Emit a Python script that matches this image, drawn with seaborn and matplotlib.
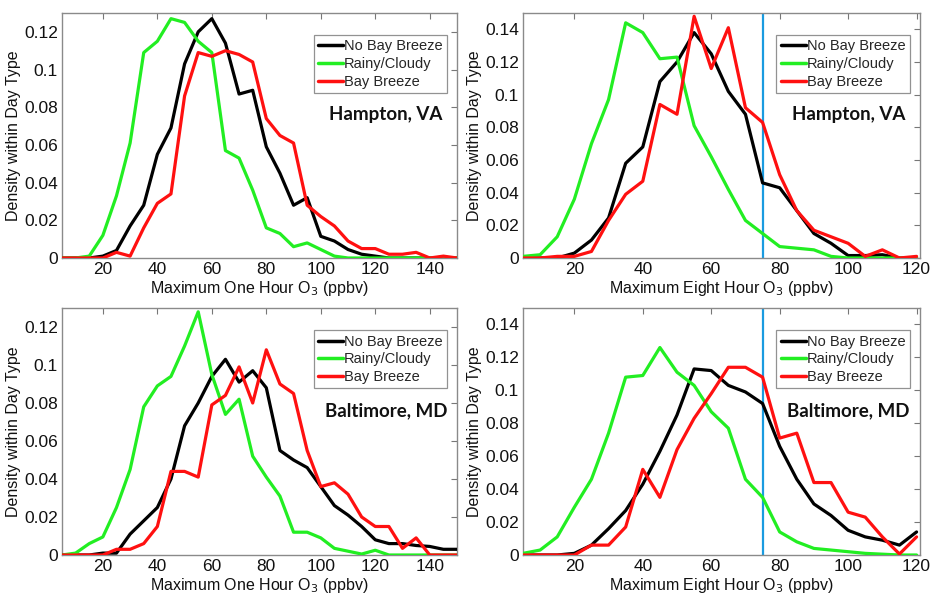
import numpy as np
import pandas as pd
import matplotlib
matplotlib.use("Agg")
import matplotlib.pyplot as plt
from matplotlib.ticker import FuncFormatter
import seaborn as sns

sns.set_theme(style="white")
plt.rcParams['font.family'] = ['Liberation Sans', 'DejaVu Sans']

# ---------------- data ----------------
x_one_hour = list(range(5, 155, 5))    # 5..150
x_eight_hour = list(range(5, 125, 5))  # 5..120

types = ["No Bay Breeze", "Rainy/Cloudy", "Bay Breeze"]

# Hampton, VA - max one hour O3
hampton_1h_no_bay = [0, 0, 0, 0.001, 0.004, 0.017, 0.028, 0.055, 0.069, 0.103, 0.120, 0.127,
                     0.114, 0.087, 0.089, 0.059, 0.045, 0.028, 0.032, 0.0115, 0.009, 0.0045,
                     0.002, 0.001, 0, 0, 0, 0, 0, 0]
hampton_1h_rainy = [0, 0, 0.001, 0.012, 0.033, 0.061, 0.109, 0.115, 0.127, 0.125, 0.115, 0.109,
                    0.057, 0.053, 0.036, 0.016, 0.013, 0.006, 0.008, 0.0045, 0.001, 0,
                    0, 0, 0, 0, 0, 0, 0, 0]
hampton_1h_bay = [0, 0, 0, 0, 0.003, 0.001, 0.016, 0.029, 0.034, 0.086, 0.109, 0.107,
                  0.110, 0.108, 0.104, 0.074, 0.065, 0.061, 0.028, 0.022, 0.017, 0.009,
                  0.005, 0.005, 0.002, 0.002, 0.003, 0, 0.001, 0]

# Hampton, VA - max eight hour O3
hampton_8h_no_bay = [0, 0, 0, 0.003, 0.011, 0.0245, 0.058, 0.068, 0.108, 0.120, 0.138, 0.125,
                     0.102, 0.088, 0.046, 0.043, 0.029, 0.015, 0.009, 0.0015, 0.0015, 0.002,
                     0, 0]
hampton_8h_rainy = [0.001, 0.002, 0.013, 0.036, 0.070, 0.097, 0.144, 0.138, 0.122, 0.123, 0.081,
                    0.062, 0.042, 0.023, 0.015, 0.007, 0.006, 0.005, 0.001, 0, 0, 0, 0, 0]
hampton_8h_bay = [0, 0, 0.001, 0.001, 0.004, 0.023, 0.039, 0.047, 0.094, 0.088, 0.148, 0.116,
                  0.141, 0.092, 0.083, 0.051, 0.029, 0.017, 0.013, 0.009, 0.001, 0.005, 0, 0.001]

# Baltimore, MD - max one hour O3
baltimore_1h_no_bay = [0, 0, 0, 0.001, 0.001, 0.011, 0.018, 0.025, 0.040, 0.068, 0.080, 0.094,
                       0.103, 0.091, 0.097, 0.088, 0.055, 0.050, 0.046, 0.036, 0.026, 0.021,
                       0.015, 0.008, 0.006, 0.006, 0.005, 0.0045, 0.003, 0.003]
baltimore_1h_rainy = [0, 0.001, 0.006, 0.0095, 0.025, 0.045, 0.078, 0.089, 0.094, 0.110, 0.128,
                      0.095, 0.074, 0.082, 0.052, 0.041, 0.031, 0.012, 0.012, 0.009, 0.0035,
                      0.002, 0.0005, 0.0025, 0, 0, 0, 0, 0, 0]
baltimore_1h_bay = [0, 0, 0, 0, 0.003, 0.003, 0.006, 0.015, 0.044, 0.044, 0.041, 0.079, 0.084,
                    0.099, 0.080, 0.108, 0.090, 0.085, 0.055, 0.036, 0.038, 0.032, 0.020,
                    0.015, 0.015, 0.0035, 0.009, 0, 0, 0]

# Baltimore, MD - max eight hour O3
baltimore_8h_no_bay = [0, 0, 0, 0.001, 0.006, 0.016, 0.027, 0.043, 0.063, 0.085, 0.113, 0.112,
                       0.103, 0.099, 0.092, 0.066, 0.046, 0.031, 0.024, 0.015, 0.011, 0.009,
                       0.006, 0.014]
baltimore_8h_rainy = [0.001, 0.003, 0.011, 0.029, 0.046, 0.074, 0.108, 0.109, 0.126, 0.111, 0.103,
                      0.087, 0.077, 0.046, 0.035, 0.014, 0.008, 0.004, 0.003, 0.002, 0.001,
                      0.0005, 0, 0]
baltimore_8h_bay = [0, 0, 0, 0, 0.006, 0.006, 0.017, 0.052, 0.035, 0.064, 0.083, 0.098, 0.114,
                    0.114, 0.108, 0.071, 0.074, 0.044, 0.044, 0.026, 0.023, 0.011, 0.0006, 0.011]

standard_8h = 75  # ppbv reference line

one_hour_ticks = [20, 40, 60, 80, 100, 120, 140]
eight_hour_ticks = [20, 40, 60, 80, 100, 120]

# ---------------- plot ----------------
W, H = 935, 597
fig = plt.figure(figsize=(W / 100, H / 100), dpi=100)

palette = {"No Bay Breeze": "#000000", "Rainy/Cloudy": "#22ee22", "Bay Breeze": "#ff1010"}


def px_axes(l, t, r, b):
    return fig.add_axes([l / W, 1 - b / H, (r - l) / W, (b - t) / H])


panels = [
    dict(rect=(62, 13, 457, 258), x=x_one_hour,
         ys=[hampton_1h_no_bay, hampton_1h_rainy, hampton_1h_bay],
         xlim=(5, 150), ylim=(0, 0.13), yt=np.arange(0, 0.121, 0.02), xt=one_hour_ticks,
         xlabel="Maximum One Hour O$_3$ (ppbv)", site="Hampton, VA", vline=False),
    dict(rect=(523, 13, 920, 258), x=x_eight_hour,
         ys=[hampton_8h_no_bay, hampton_8h_rainy, hampton_8h_bay],
         xlim=(5, 121), ylim=(0, 0.15), yt=np.arange(0, 0.141, 0.02), xt=eight_hour_ticks,
         xlabel="Maximum Eight Hour O$_3$ (ppbv)", site="Hampton, VA", vline=True),
    dict(rect=(62, 308, 457, 555), x=x_one_hour,
         ys=[baltimore_1h_no_bay, baltimore_1h_rainy, baltimore_1h_bay],
         xlim=(5, 150), ylim=(0, 0.13), yt=np.arange(0, 0.121, 0.02), xt=one_hour_ticks,
         xlabel="Maximum One Hour O$_3$ (ppbv)", site="Baltimore, MD", vline=False),
    dict(rect=(523, 308, 920, 555), x=x_eight_hour,
         ys=[baltimore_8h_no_bay, baltimore_8h_rainy, baltimore_8h_bay],
         xlim=(5, 121), ylim=(0, 0.15), yt=np.arange(0, 0.141, 0.02), xt=eight_hour_ticks,
         xlabel="Maximum Eight Hour O$_3$ (ppbv)", site="Baltimore, MD", vline=True),
]

fmt = FuncFormatter(lambda v, p: "0" if abs(v) < 1e-9 else ("%g" % round(v, 3)))

for p in panels:
    ax = px_axes(*p["rect"])
    frames = []
    for t, y in zip(types, p["ys"]):
        frames.append(pd.DataFrame({"O3": p["x"], "density": y, "type": t}))
    df = pd.concat(frames, ignore_index=True)
    if p["vline"]:
        ax.axvline(standard_8h, color="#1a9be0", lw=1.6, zorder=1)
    sns.lineplot(data=df, x="O3", y="density", hue="type", hue_order=types,
                 palette=palette, linewidth=2.3, ax=ax, legend=True, zorder=3)
    ax.set_xlim(*p["xlim"])
    ax.set_ylim(*p["ylim"])
    ax.set_xticks(p["xt"])
    ax.set_yticks(p["yt"])
    ax.yaxis.set_major_formatter(fmt)
    ax.tick_params(direction="in", length=4, width=0.8, color="#777777",
                   top=True, right=True, labelsize=12.5, labelcolor="#111111", pad=3)
    for s in ax.spines.values():
        s.set_color("#8a8a8a")
        s.set_linewidth(1.0)
    ax.set_xlabel(p["xlabel"], fontsize=11.5, color="#111111", labelpad=1)
    ax.set_ylabel("Density within Day Type", fontsize=11.5, color="#111111", labelpad=2)
    leg = ax.legend(loc="upper right", bbox_to_anchor=(0.975, 0.91), fontsize=10.5,
                    frameon=True, fancybox=False, handlelength=1.7, handletextpad=0.1,
                    borderpad=0.3, labelspacing=0.25, borderaxespad=0)
    leg.get_frame().set_edgecolor("#777777")
    leg.get_frame().set_linewidth(0.9)
    for line in leg.get_lines():
        line.set_linewidth(2.5)
    ax.text(0.82, 0.585, p["site"], transform=ax.transAxes, ha="center", va="center",
            fontsize=13.5, fontweight="bold", family=["Lato", "DejaVu Sans"],
            color="#111111")

fig.savefig("out.png", dpi=100)
